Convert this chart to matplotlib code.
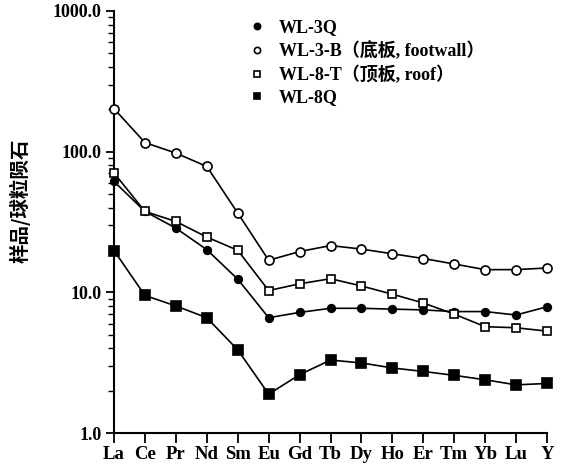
import matplotlib
matplotlib.use("Agg")
import matplotlib.pyplot as plt
from matplotlib.ticker import LogLocator, FixedFormatter, FixedLocator, NullFormatter

elements = ["La", "Ce", "Pr", "Nd", "Sm", "Eu", "Gd", "Tb", "Dy", "Ho", "Er", "Tm", "Yb", "Lu", "Y"]

wl_3q = [61.4, 37.6, 28.6, 20.1, 12.4, 6.6, 7.2, 7.7, 7.7, 7.6, 7.5, 7.3, 7.3, 6.9, 7.9]
wl_3b = [202, 116, 97.7, 78.5, 36.6, 16.9, 19.5, 21.5, 20.3, 18.8, 17.4, 15.9, 14.5, 14.5, 14.9]
wl_8t = [70.5, 37.6, 31.9, 24.7, 19.9, 10.3, 11.5, 12.5, 11.1, 9.7, 8.4, 7.0, 5.7, 5.6, 5.3]
wl_8q = [19.8, 9.5, 8.0, 6.6, 3.9, 1.89, 2.6, 3.3, 3.15, 2.9, 2.74, 2.57, 2.39, 2.2, 2.25]

series_labels = ["WL-3Q", "WL-3-B（底板, footwall）", "WL-8-T（顶板, roof）", "WL-8Q"]
y_ticks = [1, 10, 100, 1000]
y_tick_labels = ["1.0", "10.0", "100.0", "1000.0"]
y_label = "样品/球粒陨石"

serif = ["Liberation Serif", "Noto Sans CJK SC"]

fig = plt.figure(figsize=(5.69, 4.76), dpi=100)
ax = fig.add_axes([0.2004, 0.0903, 0.761, 0.8866])

x = list(range(len(elements)))
styles = [
    dict(marker="o", mfc="black", ms=5.5),
    dict(marker="o", mfc="white", ms=6.5),
    dict(marker="s", mfc="white", ms=6),
    dict(marker="s", mfc="black", ms=6.5),
]
series = [wl_3q, wl_3b, wl_8t, wl_8q]
for vals, st, lab in zip(series, styles, series_labels):
    ax.plot(x, vals, color="black", lw=1.2, mec="black", mew=1.2,
            label=lab, clip_on=False, zorder=3, **st)

ax.set_yscale("log")
ax.set_ylim(1, 1000)
ax.set_xlim(0, 14)

ax.yaxis.set_major_locator(FixedLocator(y_ticks))
ax.yaxis.set_major_formatter(FixedFormatter(y_tick_labels))
ax.yaxis.set_minor_locator(LogLocator(base=10, subs=range(2, 10)))
ax.yaxis.set_minor_formatter(NullFormatter())

ax.set_xticks(x)
ax.set_xticklabels(elements)

for s in ["top", "right"]:
    ax.spines[s].set_visible(False)
for s in ["left", "bottom"]:
    ax.spines[s].set_linewidth(1.5)

ax.tick_params(axis="y", which="major", direction="out", length=6, width=1.3, pad=3)
ax.tick_params(axis="y", which="minor", direction="out", length=4, width=1.0)
ax.tick_params(axis="x", which="major", direction="out", length=7, width=1.3, pad=2)

for lbl in ax.get_xticklabels():
    lbl.set_fontfamily(serif)
    lbl.set_fontweight("bold")
    lbl.set_fontsize(13.5)
for lbl in ax.get_yticklabels():
    lbl.set_fontfamily(serif)
    lbl.set_fontweight("bold")
    lbl.set_fontsize(13)

fig.text(20 / 569, 1 - 201 / 476, y_label, rotation=90, ha="center", va="center",
         fontsize=14, fontfamily=["Noto Sans CJK SC"], fontweight="bold")

leg_styles = [
    dict(marker="o", mfc="black", ms=4.5),
    dict(marker="o", mfc="white", ms=4.5),
    dict(marker="s", mfc="white", ms=4.5),
    dict(marker="s", mfc="black", ms=4.5),
]
leg_handles = [plt.Line2D([], [], ls="none", color="black", mec="black", mew=1.2, **st)
               for st in leg_styles]
fig.legend(leg_handles, series_labels, loc="upper left",
           bbox_to_anchor=(232 / 569, 1 - 3 / 476), frameon=False,
           handlelength=1.0, handletextpad=0.7, labelspacing=0.3,
           prop=dict(family=serif, size=13, weight="bold"))

fig.savefig("out.png", dpi=100)
